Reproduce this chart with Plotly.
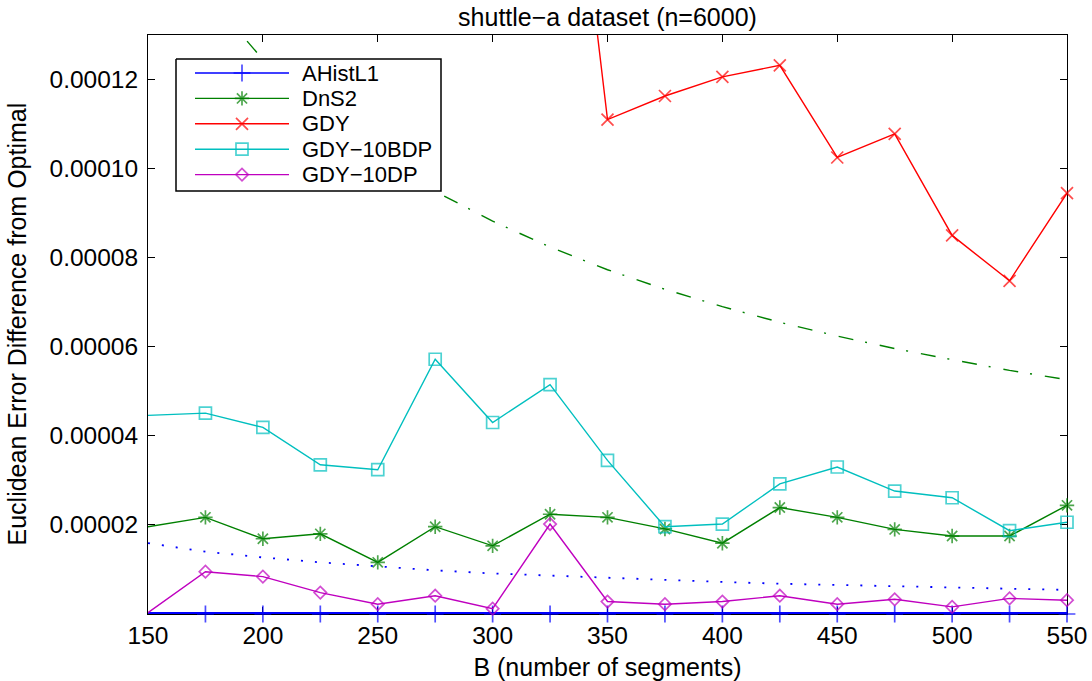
import plotly.graph_objects as go

# ---- data -------------------------------------------------------------
B = [150, 175, 200, 225, 250, 275, 300, 325, 350, 375, 400, 425, 450, 475, 500, 525, 550]

ahist_l1 = [0.0, 0.0, 0.0, 0.0, 0.0, 0.0, 0.0, 0.0, 0.0, 0.0, 0.0, 0.0, 0.0, 0.0, 0.0, 0.0, 0.0]
dns2 = [1.96e-5, 2.17e-5, 1.69e-5, 1.80e-5, 1.16e-5, 1.96e-5, 1.53e-5, 2.24e-5, 2.17e-5,
        1.91e-5, 1.59e-5, 2.39e-5, 2.17e-5, 1.90e-5, 1.75e-5, 1.75e-5, 2.44e-5]
gdy_B = [325, 350, 375, 400, 425, 450, 475, 500, 525, 550]
gdy = [2.20e-4, 1.110e-4, 1.163e-4, 1.206e-4, 1.232e-4, 1.025e-4, 1.078e-4, 8.50e-5, 7.48e-5, 9.45e-5]
gdy_10bdp = [4.46e-5, 4.51e-5, 4.19e-5, 3.35e-5, 3.24e-5, 5.72e-5, 4.30e-5, 5.15e-5, 3.45e-5,
             1.96e-5, 2.02e-5, 2.92e-5, 3.30e-5, 2.76e-5, 2.61e-5, 1.87e-5, 2.06e-5]
gdy_10dp = [0.03e-5, 0.95e-5, 0.84e-5, 0.48e-5, 0.22e-5, 0.41e-5, 0.12e-5, 2.02e-5, 0.28e-5,
            0.22e-5, 0.28e-5, 0.41e-5, 0.22e-5, 0.33e-5, 0.16e-5, 0.35e-5, 0.31e-5]
# reference curves (no legend entry)
ahist_bound = [1.59e-5, 1.40e-5, 1.27e-5, 1.16e-5, 1.07e-5, 0.98e-5, 0.91e-5, 0.86e-5, 0.81e-5,
               0.76e-5, 0.72e-5, 0.68e-5, 0.65e-5, 0.62e-5, 0.59e-5, 0.56e-5, 0.54e-5]
dns2_bound = [15.9e-5, 13.95e-5, 12.45e-5, 11.26e-5, 10.30e-5, 9.49e-5, 8.82e-5, 8.24e-5, 7.73e-5,
              7.29e-5, 6.90e-5, 6.55e-5, 6.24e-5, 5.96e-5, 5.71e-5, 5.47e-5, 5.26e-5]

x_ticks = [150, 200, 250, 300, 350, 400, 450, 500, 550]
y_ticks = [2e-5, 4e-5, 6e-5, 8e-5, 1e-4, 1.2e-4]

TITLE = "shuttle\u2212a dataset (n=6000)"
X_LABEL = "B (number of segments)"
Y_LABEL = "Euclidean Error Difference from Optimal"

# ---- styling ----------------------------------------------------------
FONT = "Liberation Sans, Arial, Helvetica, sans-serif"
BLUE, GREEN, RED = "rgb(0,0,255)", "rgb(0,128,0)", "rgb(255,0,0)"
CYAN, MAGENTA = "rgb(0,191,191)", "rgb(191,0,191)"

# margins -> plot area 919 x 579 px
ML, MR, MT, MB = 148, 25, 35, 67
W, H = 1092, 681
PW, PH = W - ML - MR, H - MT - MB

series = [
    dict(name="AHistL1", x=B, y=ahist_l1, color=BLUE, symbol="cross-thin-open", size=12, lw=4.0),
    dict(name="DnS2", x=B, y=dns2, color=GREEN, symbol="asterisk-open", size=12, lw=1.4),
    dict(name="GDY", x=gdy_B, y=gdy, color=RED, symbol="x-thin-open", size=12, lw=1.4),
    dict(name="GDY\u221210BDP", x=B, y=gdy_10bdp, color=CYAN, symbol="square-open", size=12, lw=1.4),
    dict(name="GDY\u221210DP", x=B, y=gdy_10dp, color=MAGENTA, symbol="diamond-open", size=9.5, lw=1.4),
]

fig = go.Figure()

for s in series:
    # the point sitting on the left frame edge is drawn without a marker
    sizes = [0 if xv == B[0] else s["size"] for xv in s["x"]]
    fig.add_trace(go.Scatter(
        x=s["x"], y=s["y"], mode="lines+markers", name=s["name"],
        line=dict(color=s["color"], width=s["lw"]),
        marker=dict(symbol=s["symbol"], size=sizes, color=s["color"],
                    line=dict(color=s["color"], width=1.7)),
        cliponaxis=False, showlegend=False,
    ))

fig.add_trace(go.Scatter(
    x=B, y=ahist_bound, mode="lines", showlegend=False,
    line=dict(color=BLUE, width=1.8, dash="2px,12px"),
))
fig.add_trace(go.Scatter(
    x=B, y=dns2_bound, mode="lines", showlegend=False,
    line=dict(color=GREEN, width=1.4, dash="15px,12px,2px,13px"),
))

# ---- legend box drawn on a pixel-scaled overlay axis -------------------
LEG_L, LEG_R, LEG_T, LEG_B = 28, 293, 24, 156
SAMPLE_X0, SAMPLE_X1 = 47, 141
TEXT_X = 152
ROW0, ROW_STEP = 38, 25.4

fig.add_trace(go.Scatter(
    x=[LEG_L, LEG_R, LEG_R, LEG_L, LEG_L], y=[LEG_T, LEG_T, LEG_B, LEG_B, LEG_T],
    mode="lines", fill="toself", fillcolor="white",
    line=dict(color="black", width=1.5), xaxis="x2", yaxis="y2",
    showlegend=False, hoverinfo="skip",
))
annotations = []
for i, s in enumerate(series):
    ry = ROW0 + ROW_STEP * i
    xm = (SAMPLE_X0 + SAMPLE_X1) / 2
    fig.add_trace(go.Scatter(
        x=[SAMPLE_X0, xm, SAMPLE_X1], y=[ry, ry, ry], mode="lines+markers",
        line=dict(color=s["color"], width=1.4),
        marker=dict(symbol=s["symbol"], size=[0, s["size"], 0], color=s["color"],
                    line=dict(color=s["color"], width=1.7)),
        xaxis="x2", yaxis="y2", showlegend=False, hoverinfo="skip",
    ))
    annotations.append(dict(
        x=TEXT_X, y=ry, xref="x2", yref="y2", text=s["name"], showarrow=False,
        xanchor="left", yanchor="middle", font=dict(family=FONT, size=22, color="black"),
    ))

# vertical axis label, centred on the plot height
annotations.append(dict(
    x=(16 - ML) / PW, y=0.5, xref="paper", yref="paper", text=Y_LABEL,
    textangle=-90, showarrow=False, xanchor="center", yanchor="middle",
    font=dict(family=FONT, size=25, color="black"),
))

axis_common = dict(
    showline=True, linecolor="black", linewidth=1, mirror="ticks",
    ticks="inside", ticklen=7, tickwidth=1, tickcolor="black",
    showgrid=False, zeroline=False, layer="below traces", automargin=False,
    tickfont=dict(family=FONT, size=24.5, color="black"),
)

fig.update_layout(
    template="none",
    width=W, height=H,
    margin=dict(l=ML, r=MR, t=MT, b=MB, pad=0),
    paper_bgcolor="white", plot_bgcolor="white",
    font=dict(family=FONT, size=24, color="black"),
    title=dict(text=TITLE, x=(ML + PW / 2) / W, xanchor="center",
               y=1 - 17 / H, yanchor="middle",
               font=dict(family=FONT, size=25, color="black")),
    xaxis=dict(range=[150, 550], tickvals=x_ticks, ticklabelstandoff=0,
               title=dict(text=X_LABEL, standoff=10, font=dict(family=FONT, size=25)),
               **axis_common),
    yaxis=dict(range=[0, 1.3e-4], tickvals=y_ticks, tickformat=".5f", ticklabelstandoff=4,
               **axis_common),
    xaxis2=dict(range=[0, PW], overlaying="x", anchor="y2", visible=False,
                fixedrange=True, automargin=False),
    yaxis2=dict(range=[PH, 0], overlaying="y", anchor="x2", visible=False,
                fixedrange=True, automargin=False),
    annotations=annotations,
    showlegend=False,
)

fig.write_html("out.html")
